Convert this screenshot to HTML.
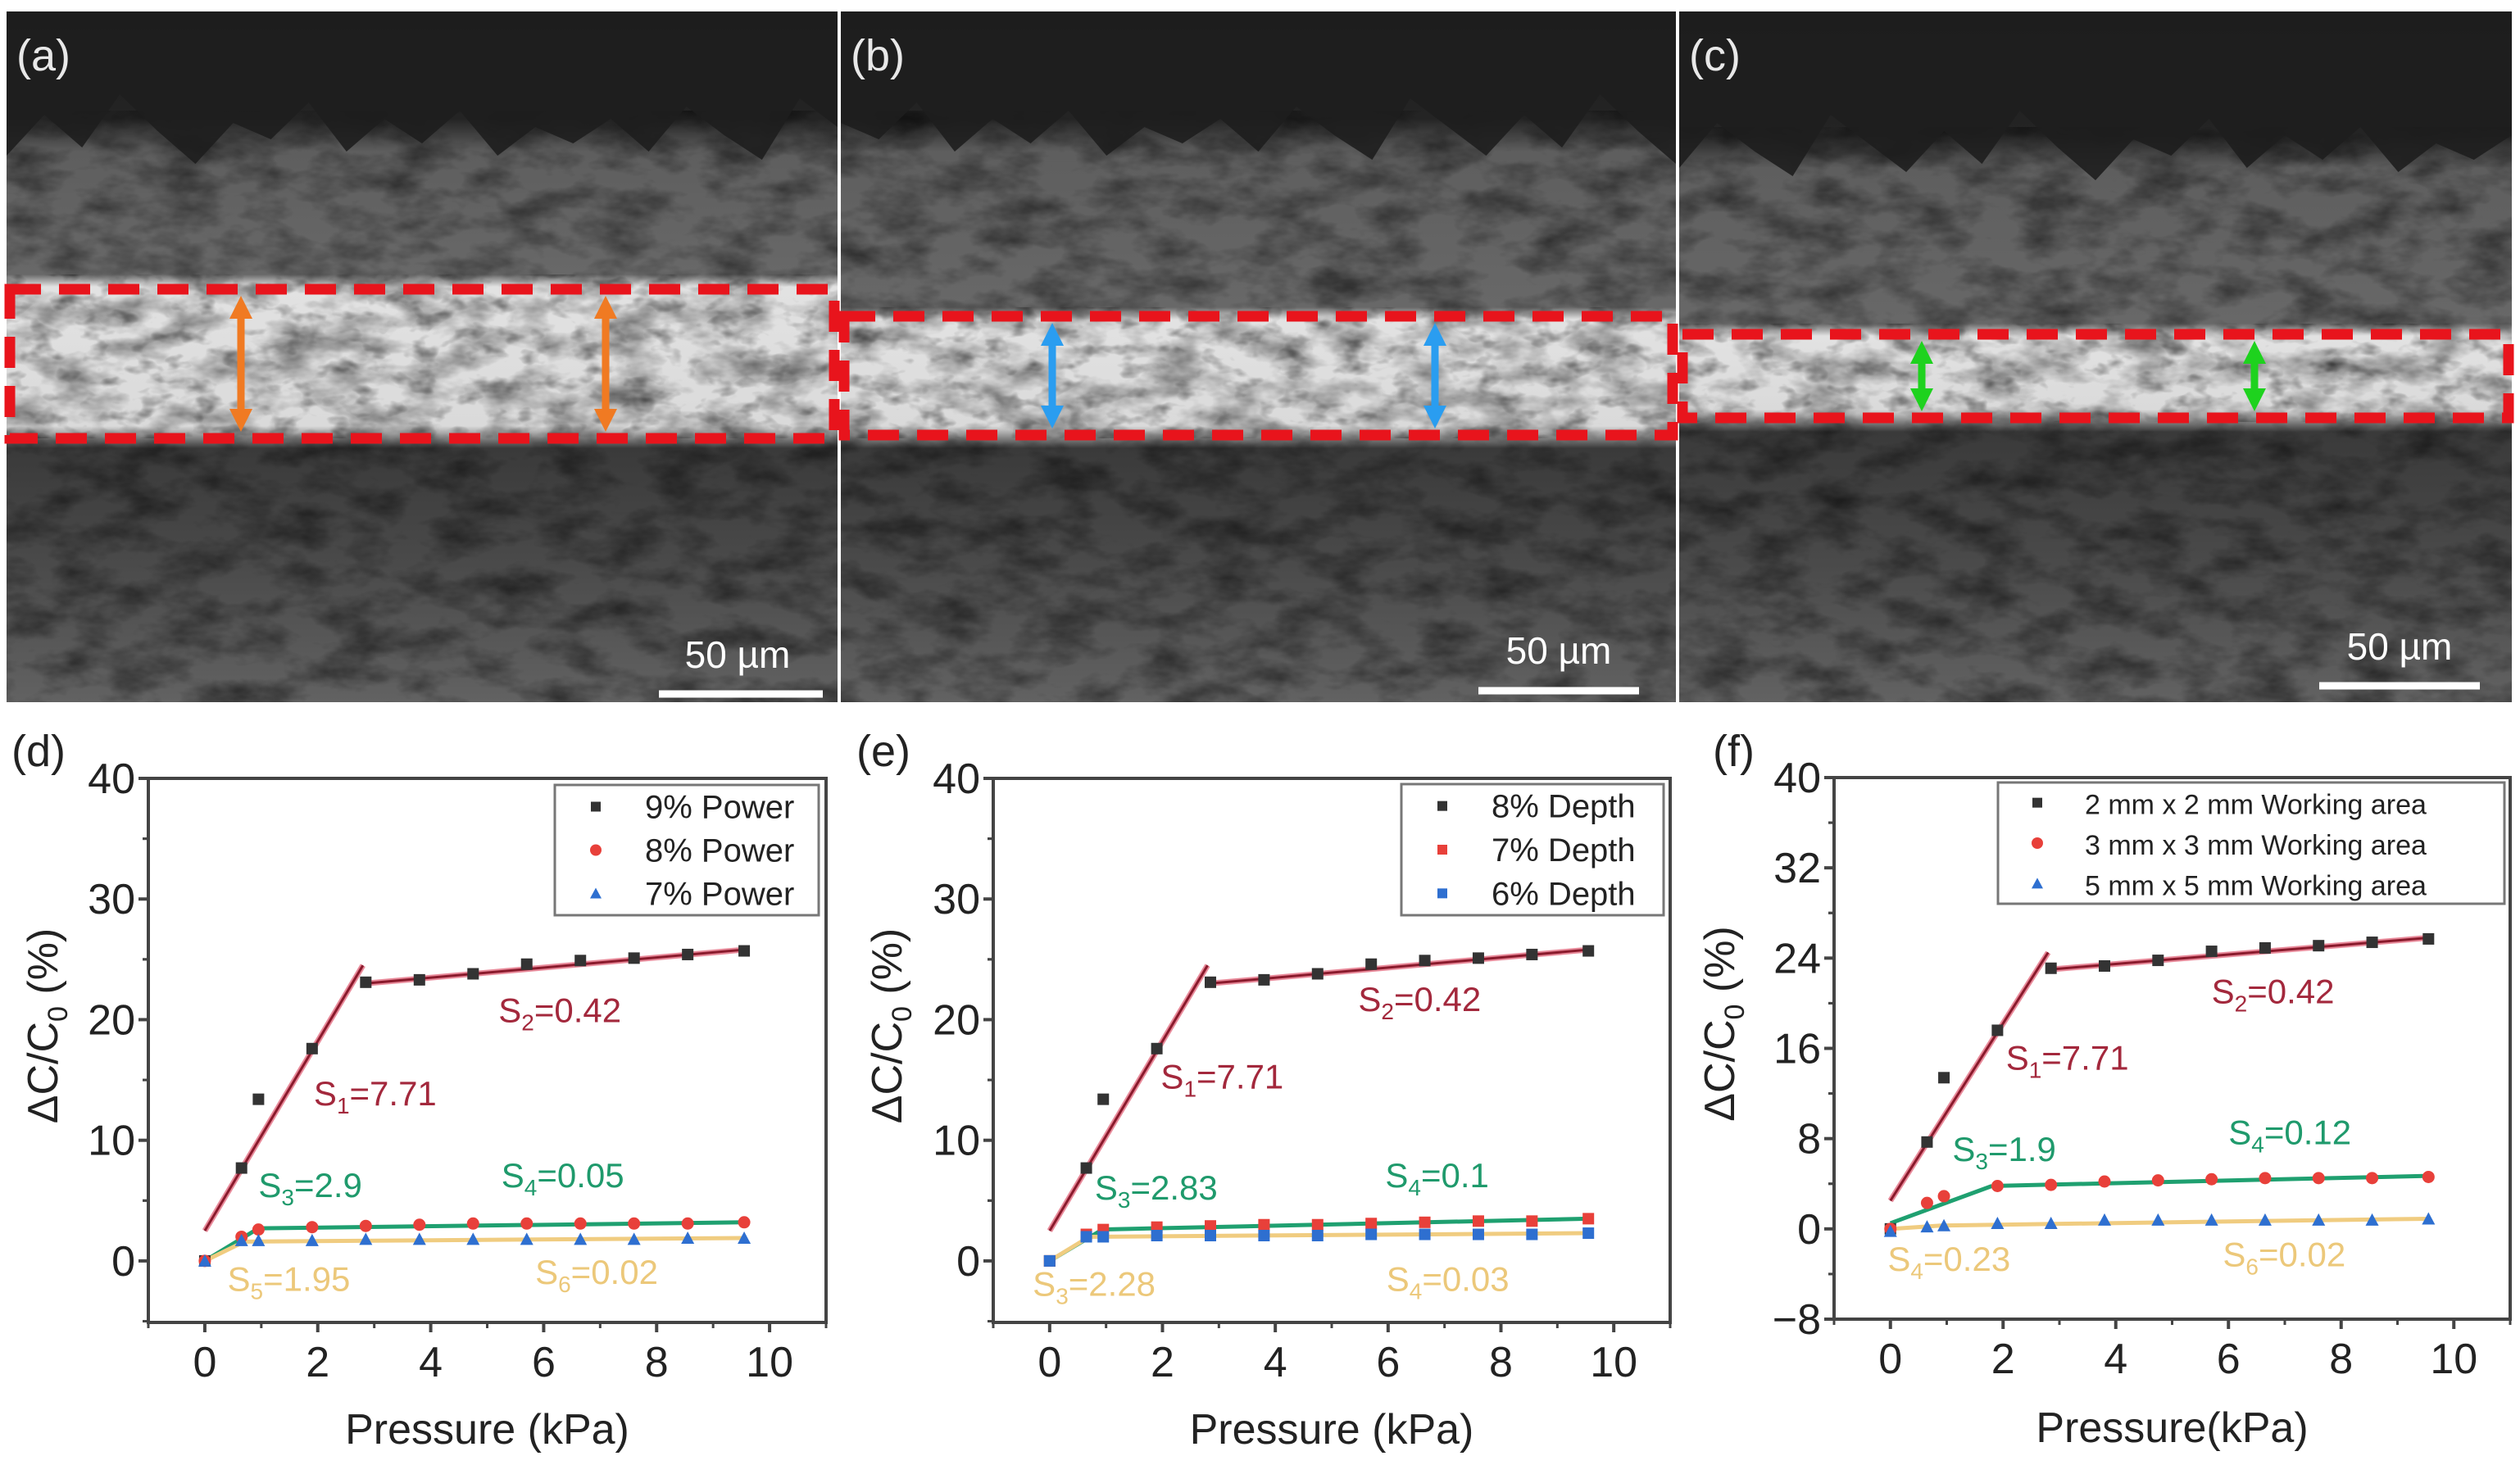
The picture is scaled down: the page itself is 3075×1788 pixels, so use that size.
<!DOCTYPE html>
<html><head><meta charset="utf-8">
<style>
html,body{margin:0;padding:0;background:#fff;}
svg{display:block;font-family:"Liberation Sans",Arial,sans-serif;}
</style></head>
<body>
<svg id="fig" width="3075" height="1788" viewBox="0 0 3075 1788" xmlns="http://www.w3.org/2000/svg">
<defs>
  <filter id="noise" x="0" y="0" width="100%" height="100%">
    <feTurbulence type="fractalNoise" baseFrequency="0.015 0.03" numOctaves="4" seed="3"/>
    <feColorMatrix type="matrix" values="0 0 0 0 0  0 0 0 0 0  0 0 0 0 0  0 0 0 -1.8 1.1"/>
  </filter>
  <filter id="noise2" x="0" y="0" width="100%" height="100%">
    <feTurbulence type="fractalNoise" baseFrequency="0.03 0.05" numOctaves="3" seed="8"/>
    <feColorMatrix type="matrix" values="0 0 0 0 0  0 0 0 0 0  0 0 0 0 0  0 0 0 -2.6 1.2"/>
  </filter>
</defs>
<g id="sem"></g>
<g id="charts"></g>
</svg>
<script>
const NS="http://www.w3.org/2000/svg";
function mk(tag,attrs,parent){const e=document.createElementNS(NS,tag);for(const k in attrs)e.setAttribute(k,attrs[k]);parent.appendChild(e);return e;}

/* ---------- SEM image panels ---------- */
const semG=document.getElementById('sem');
const bumps=[0,-30,10,-45,-10,20,-55,-20,15,-35,5,-60,-15,25,-25,-5,-50,10,-30,0,-40,15,-20];
const panels=[
 {id:'a',x:8,w:1014,top:175,band:[335,535],box:[353,535],arrowCol:'#f07a22',arrows:[294,739],bar:[804,1004],barY:847,txtX:900,txtY:815},
 {id:'b',x:1026,w:1019,top:175,band:[375,535],box:[386,531],arrowCol:'#2a9df0',arrows:[1284,1751],bar:[1804,2000],barY:843,txtX:1902,txtY:810},
 {id:'c',x:2049,w:1016,top:195,band:[395,515],box:[408,510],arrowCol:'#1ed21e',arrows:[2345,2751],bar:[2830,3026],barY:837,txtX:2928,txtY:805}
];
panels.forEach(p=>{
  const g=mk('g',{},semG);
  
  
  const y0=14,y1=857,h=y1-y0;
  const gid='gr'+p.id;
  const lg=mk('linearGradient',{id:gid,x1:0,y1:0,x2:0,y2:1},g);
  const st=[[0,'#1c1c1c'],[(p.top-30-y0)/h,'#242424'],[(p.top+10-y0)/h,'#5e5e5e'],[(p.band[0]-y0)/h,'#686868'],[(p.band[0]+15-y0)/h,'#e2e2e2'],[(p.band[1]-15-y0)/h,'#dadada'],[(p.band[1]+12-y0)/h,'#3a3a3a'],[0.8,'#4a4a4a'],[1,'#626262']];
  st.forEach(s=>mk('stop',{offset:s[0],'stop-color':s[1]},lg));
  mk('rect',{x:p.x,y:y0,width:p.w,height:h,fill:'url(#'+gid+')'},g);
  mk('rect',{x:p.x,y:p.top-40,width:p.w,height:y1-p.top+40,filter:'url(#noise)',opacity:0.55},g);
  mk('rect',{x:p.x,y:p.band[0],width:p.w,height:p.band[1]-p.band[0],filter:'url(#noise2)',opacity:0.45},g);
  // bumpy dark top
  let d=`M${p.x},${y0} L${p.x+p.w},${y0} `;
  for(let i=bumps.length-1;i>=0;i--){const bx=p.x+p.w*i/(bumps.length-1);d+=`L${bx},${p.top+bumps[(i+p.x)%bumps.length]} `;}
  mk('path',{d:d+'Z',fill:'#1e1e1e',opacity:0.9},g);
  // red dashed box
  const b=mk('rect',{x:p.x+4,y:p.box[0],width:p.w-8,height:p.box[1]-p.box[0],fill:'none',stroke:'#e8141c','stroke-width':13,'stroke-dasharray':'38 22'},g);
  
  
  p.arrows.forEach(ax=>{
    const a=mk('g',{},g);
    
    
    const t=p.box[0]+8,bt=p.box[1]-8;
    mk('line',{x1:ax,y1:t+22,x2:ax,y2:bt-22,stroke:p.arrowCol,'stroke-width':9},a);
    mk('polygon',{points:`${ax-14},${t+28} ${ax},${t} ${ax+14},${t+28}`,fill:p.arrowCol},a);
    mk('polygon',{points:`${ax-14},${bt-28} ${ax},${bt} ${ax+14},${bt-28}`,fill:p.arrowCol},a);
  });
  const lb=mk('text',{x:p.x+12,y:86,'font-size':54,fill:'#e8e8e8'},g);
  lb.textContent='('+p.id+')';
  
  
  const sb=mk('text',{x:p.txtX,y:p.txtY,'font-size':46,fill:'#fff','text-anchor':'middle'},g);
  sb.textContent='50 µm';
  
  
  const sl=mk('line',{x1:p.bar[0],y1:p.barY,x2:p.bar[1],y2:p.barY,stroke:'#fff','stroke-width':9},g);
  
  
});
</script>
<script>
/* ---------- chart data ---------- */
const pressure=[0,0.65,0.95,1.9,2.85,3.8,4.75,5.7,6.65,7.6,8.55,9.55];
const dSeries1=[0,7.7,13.4,17.6,23.1,23.3,23.8,24.6,24.9,25.1,25.4,25.7];
const dSeries2=[0,2.0,2.6,2.8,2.9,3.0,3.1,3.1,3.1,3.1,3.1,3.2];
const dSeries3=[0,1.7,1.7,1.7,1.8,1.8,1.8,1.8,1.8,1.8,1.9,1.9];
const eSeries1=[0,7.7,13.4,17.6,23.1,23.3,23.8,24.6,24.9,25.1,25.4,25.7];
const eSeries2=[0,2.2,2.6,2.8,2.9,3.0,3.0,3.1,3.2,3.3,3.3,3.5];
const eSeries3=[0,2.0,2.0,2.1,2.1,2.1,2.1,2.2,2.2,2.2,2.2,2.3];
const fSeries1=[0,7.7,13.4,17.6,23.1,23.3,23.8,24.6,24.9,25.1,25.4,25.7];
const fSeries2=[0,2.3,2.9,3.8,3.9,4.2,4.3,4.4,4.5,4.5,4.5,4.6];
const fSeries3=[-0.2,0.2,0.3,0.5,0.5,0.8,0.8,0.8,0.8,0.8,0.8,0.9];
const dLegend=['9% Power','8% Power','7% Power'];
const eLegend=['8% Depth','7% Depth','6% Depth'];
const fLegend=['2 mm x 2 mm Working area','3 mm x 3 mm Working area','5 mm x 5 mm Working area'];
const xTicks=[0,2,4,6,8,10];
const dyTicks=[0,10,20,30,40];
const fyTicks=[-8,0,8,16,24,32,40];
/* fit lines: [x1,y1,x2,y2] in data units */
const dFits=[[0,2.5,2.8,24.5],[2.85,23.0,9.55,25.8],[0,0,0.95,2.7],[0.95,2.7,9.55,3.2],[0,0,0.7,1.6],[0.7,1.6,9.55,1.9]];
const eFits=[[0,2.5,2.8,24.5],[2.85,23.0,9.55,25.8],[0,0,0.9,2.5],[0.9,2.6,9.55,3.5],[0,0,0.7,2.0],[0.7,2.0,9.55,2.3]];
const fFits=[[0,2.5,2.8,24.5],[2.85,23.0,9.55,25.8],[0,0.5,1.8,3.8],[1.8,3.8,9.55,4.7],[0,0,0.9,0.3],[0.9,0.3,9.55,0.9]];
/* annotations: [x,y,S,sub,value,colorIndex] */
const dNotes=[[5.2,19.8,'S','2','=0.42',0],[1.93,12.9,'S','1','=7.71',0],[0.95,5.3,'S','3','=2.9',1],[5.25,6.1,'S','4','=0.05',1],[0.4,-2.5,'S','5','=1.95',2],[5.85,-1.9,'S','6','=0.02',2]];
const eNotes=[[5.47,20.7,'S','2','=0.42',0],[1.97,14.3,'S','1','=7.71',0],[0.8,5.1,'S','3','=2.83',1],[5.95,6.1,'S','4','=0.1',1],[-0.3,-2.9,'S','3','=2.28',2],[5.97,-2.5,'S','4','=0.03',2]];
const fNotes=[[5.7,20.0,'S','2','=0.42',0],[2.05,14.1,'S','1','=7.71',0],[1.1,6.0,'S','3','=1.9',1],[6.0,7.5,'S','4','=0.12',1],[-0.05,-3.7,'S','4','=0.23',2],[5.9,-3.3,'S','6','=0.02',2]];

const noteCols=['#a3283c','#1f9a6c','#ecc87a'];
const fitCols=['#8a1a2c','#8a1a2c','#1fa070','#1fa070','#f0cc80','#f0cc80'];
const markCols=['#333','#e8403a','#2e6fd0'];

function drawChart(cfg){
  const root=document.getElementById('charts');
  const g=mk('g',{},root);
  
  
  const L=cfg.left,R=cfg.right,T=cfg.top,B=cfg.bottom;
  const X=v=>L+(v-cfg.xmin)/(cfg.xmax-cfg.xmin)*(R-L);
  const Y=v=>B-(v-cfg.ymin)/(cfg.ymax-cfg.ymin)*(B-T);
  const frame=mk('rect',{x:L,y:T,width:R-L,height:B-T,fill:'none',stroke:'#444','stroke-width':4},g);
  
  
  xTicks.forEach(t=>{
    mk('line',{x1:X(t),y1:B,x2:X(t),y2:B+12,stroke:'#444','stroke-width':4},g);
    mk('line',{x1:X(t+1),y1:B,x2:X(t+1),y2:B+7,stroke:'#444','stroke-width':3},g);
    const tx=mk('text',{x:X(t),y:B+66,'font-size':52,'text-anchor':'middle',fill:'#222'},g);
    tx.textContent=t;
    
    
  });
  mk('line',{x1:X(-1),y1:B,x2:X(-1),y2:B+7,stroke:'#444','stroke-width':3},g);
  const yt=cfg.yTicks, step=yt[1]-yt[0];
  yt.forEach(t=>{
    mk('line',{x1:L-12,y1:Y(t),x2:L,y2:Y(t),stroke:'#444','stroke-width':4},g);
    if(t+step/2<=cfg.ymax) mk('line',{x1:L-7,y1:Y(t+step/2),x2:L,y2:Y(t+step/2),stroke:'#444','stroke-width':3},g);
    if(t-step/2>=cfg.ymin) mk('line',{x1:L-7,y1:Y(t-step/2),x2:L,y2:Y(t-step/2),stroke:'#444','stroke-width':3},g);
    const ty=mk('text',{x:L-16,y:Y(t)+18,'font-size':52,'text-anchor':'end',fill:'#222'},g);
    ty.textContent=(t<0?'\u2212'+(-t):t);
    
    
  });
  const xt=mk('text',{x:(L+R)/2,y:cfg.xTitleY,'font-size':52,'text-anchor':'middle',fill:'#222'},g);
  xt.textContent=cfg.xTitle;
  
  
  const yx=cfg.yTitleX, yc=(T+B)/2-30;
  const ytl=mk('text',{x:yx,y:yc,'font-size':52,'text-anchor':'middle',fill:'#222',transform:`rotate(-90 ${yx} ${yc})`},g);
  
  
  const t1=mk('tspan',{},ytl);t1.textContent='ΔC/C';
  const t2=mk('tspan',{dy:12,'font-size':34},ytl);t2.textContent='0';
  const t3=mk('tspan',{dy:-12},ytl);t3.textContent=' (%)';
  const pl=mk('text',{x:cfg.labelX,y:cfg.labelY,'font-size':54,fill:'#222'},g);
  pl.textContent='('+cfg.id+')';
  
  
  cfg.fits.forEach((f,i)=>{
    if(i<2) mk('line',{x1:X(f[0]),y1:Y(f[1]),x2:X(f[2]),y2:Y(f[3]),stroke:'#e88a9a','stroke-width':7},g);
    const ln=mk('line',{x1:X(f[0]),y1:Y(f[1]),x2:X(f[2]),y2:Y(f[3]),stroke:fitCols[i],'stroke-width':i<2?3:5},g);
    
    
  });
  cfg.series.forEach((s,si)=>{
    s.forEach((v,i)=>{
      const cx=X(pressure[i]),cy=Y(v);
      let m;
      if(cfg.shapes[si]==='sq') m=mk('rect',{x:cx-7,y:cy-7,width:14,height:14,fill:markCols[si]},g);
      else if(cfg.shapes[si]==='ci') m=mk('circle',{cx:cx,cy:cy,r:7.5,fill:markCols[si]},g);
      else m=mk('polygon',{points:`${cx-8},${cy+7} ${cx},${cy-8} ${cx+8},${cy+7}`,fill:markCols[si]},g);
      
      
    });
  });
  cfg.notes.forEach(n=>{
    const tx=mk('text',{x:X(n[0]),y:Y(n[1]),'font-size':42,fill:noteCols[n[5]]},g);
    
    
    const a=mk('tspan',{},tx);a.textContent=n[2];
    const b=mk('tspan',{dy:10,'font-size':28},tx);b.textContent=n[3];
    const c=mk('tspan',{dy:-10},tx);c.textContent=n[4];
  });
  const lgd=mk('g',{},g);
  
  
  const lb=cfg.legendBox;
  mk('rect',{x:lb[0],y:lb[1],width:lb[2]-lb[0],height:lb[3]-lb[1],fill:'#fff',stroke:'#777','stroke-width':3},lgd);
  const rowH=(lb[3]-lb[1])/3;
  cfg.legend.forEach((name,i)=>{
    const cy=lb[1]+rowH*(i+0.5);
    const mx=cfg.legMarkX;
    let m;
    if(cfg.shapes[i]==='sq') m=mk('rect',{x:mx-6,y:cy-6,width:12,height:12,fill:markCols[i]},lgd);
    else if(cfg.shapes[i]==='ci') m=mk('circle',{cx:mx,cy:cy,r:7,fill:markCols[i]},lgd);
    else m=mk('polygon',{points:`${mx-7},${cy+6} ${mx},${cy-7} ${mx+7},${cy+6}`,fill:markCols[i]},lgd);
    const e=mk('text',{x:cfg.legTextX,y:cy+14,'font-size':cfg.legFont,fill:'#222'},lgd);
    e.textContent=name;
    
    
  });
}

drawChart({id:'d',left:181,right:1008,top:950,bottom:1614,xmin:-1,xmax:11,ymin:-5.1,ymax:40,yTicks:dyTicks,
  series:[dSeries1,dSeries2,dSeries3],shapes:['sq','ci','tr'],fits:dFits,notes:dNotes,legend:dLegend,
  legendBox:[677,958,999,1117],legMarkX:727,legTextX:787,legFont:40,xTitle:'Pressure (kPa)',xTitleY:1762,yTitleX:70,labelX:14,labelY:935});
drawChart({id:'e',left:1212,right:2038,top:950,bottom:1614,xmin:-1,xmax:11,ymin:-5.1,ymax:40,yTicks:dyTicks,
  series:[eSeries1,eSeries2,eSeries3],shapes:['sq','sq','sq'],fits:eFits,notes:eNotes,legend:eLegend,
  legendBox:[1710,957,2030,1117],legMarkX:1760,legTextX:1820,legFont:40,xTitle:'Pressure (kPa)',xTitleY:1762,yTitleX:1100,labelX:1045,labelY:935});
drawChart({id:'f',left:2238,right:3063,top:949,bottom:1610,xmin:-1,xmax:11,ymin:-8,ymax:40,yTicks:fyTicks,
  series:[fSeries1,fSeries2,fSeries3],shapes:['sq','ci','tr'],fits:fFits,notes:fNotes,legend:fLegend,
  legendBox:[2438,955,3056,1103],legMarkX:2486,legTextX:2544,legFont:34,xTitle:'Pressure(kPa)',xTitleY:1760,yTitleX:2116,labelX:2090,labelY:935});
</script>
</body></html>
